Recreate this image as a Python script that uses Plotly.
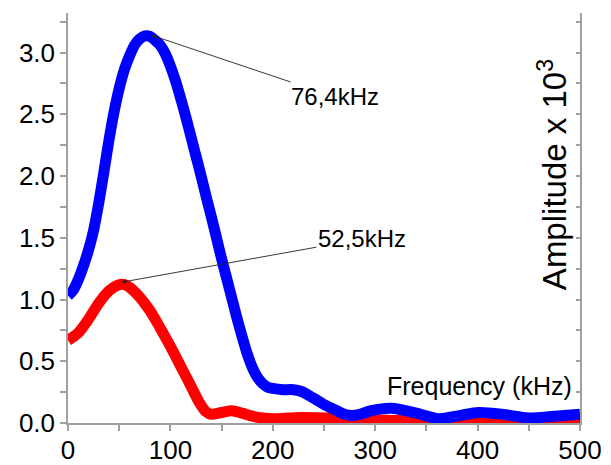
import plotly.graph_objects as go

# Frequency (kHz) / amplitude x 10^3
blue_x = [0, 5, 10, 15, 20, 25, 30, 35, 40, 45, 50, 55, 60, 65, 70, 75, 80, 85, 90, 95, 100,
          105, 110, 115, 120, 125, 130, 135, 140, 145, 150, 155, 160, 165, 170, 175, 180, 185,
          190, 195, 200, 210, 220, 228, 240, 250, 260, 270, 277, 285, 296, 316, 340, 362, 382,
          401, 425, 450, 475, 500]
blue_y = [1.03, 1.075, 1.16, 1.27, 1.40, 1.56, 1.78, 2.03, 2.29, 2.52, 2.71, 2.86, 2.97, 3.06,
          3.11, 3.135, 3.13, 3.10, 3.06, 2.99, 2.89, 2.77, 2.63, 2.48, 2.32, 2.16, 2.0, 1.83,
          1.67, 1.50, 1.33, 1.17, 1.01, 0.85, 0.70, 0.56, 0.45, 0.37, 0.32, 0.29, 0.28, 0.27,
          0.27, 0.255, 0.20, 0.15, 0.11, 0.07, 0.06, 0.07, 0.10, 0.12, 0.08, 0.035, 0.06, 0.085,
          0.07, 0.04, 0.055, 0.07]

red_x = [0, 10, 20, 30, 40, 50, 55, 60, 70, 80, 90, 100, 110, 120, 128, 135, 140, 150, 160,
         170, 180, 190, 205, 226, 258, 290, 320, 360, 400, 440, 470, 500]
red_y = [0.67, 0.73, 0.84, 0.97, 1.07, 1.12, 1.12, 1.10, 1.02, 0.91, 0.77, 0.62, 0.46, 0.30,
         0.17, 0.09, 0.07, 0.085, 0.10, 0.08, 0.055, 0.04, 0.035, 0.045, 0.04, 0.03, 0.02,
         0.015, 0.035, 0.015, 0.02, 0.02]

peak_labels = ["76,4kHz", "52,5kHz"]
peak_x = [81.5, 52.3]
peak_y = [3.14, 1.14]
label_cx = [261, 287]
label_cy = [2.64, 1.49]

x_ticks = [0, 100, 200, 300, 400, 500]
y_ticks = [0.0, 0.5, 1.0, 1.5, 2.0, 2.5, 3.0]

FONT = "Liberation Sans, Arial, sans-serif"
AXC = "#a0a0a0"

fig = go.Figure()
fig.add_trace(go.Scatter(x=red_x, y=red_y, mode="lines",
                         line=dict(color="#ff0000", width=11, shape="spline", smoothing=0.8),
                         showlegend=False, hoverinfo="skip"))
fig.add_trace(go.Scatter(x=blue_x, y=blue_y, mode="lines",
                         line=dict(color="#0000ff", width=11, shape="spline", smoothing=0.8),
                         showlegend=False, hoverinfo="skip"))
# invisible trace for right axis
fig.add_trace(go.Scatter(x=[None], y=[None], yaxis="y2", showlegend=False, hoverinfo="skip"))

annotations = []
for i in range(2):
    annotations.append(dict(x=peak_x[i], y=peak_y[i], ax=label_cx[i], ay=label_cy[i],
                            xref="x", yref="y", axref="x", ayref="y", text=peak_labels[i],
                            showarrow=True, arrowhead=2, arrowsize=1.0, arrowwidth=0.9,
                            arrowcolor="#222222", standoff=0, startstandoff=0,
                            font=dict(family=FONT, size=24, color="black")))
annotations.append(dict(x=494, y=0.30, xref="x", yref="y", text="Frequency (kHz)",
                        showarrow=False, xanchor="right", yanchor="middle",
                        font=dict(family=FONT, size=25, color="black")))
annotations.append(dict(x=473, y=2.01, xref="x", yref="y", text="Amplitude x 10<sup>3</sup>",
                        showarrow=False, textangle=-90, xanchor="center", yanchor="middle",
                        font=dict(family=FONT, size=33, color="black")))

fig.update_layout(
    width=603, height=457,
    margin=dict(l=60, r=31, t=5, b=42),
    paper_bgcolor="white", plot_bgcolor="white",
    annotations=annotations,
    xaxis=dict(range=[0, 500], tickvals=x_ticks, ticktext=[str(v) for v in x_ticks],
               automargin=False, ticklabelstandoff=-3,
               ticks="outside", ticklen=6, tickwidth=1.5, tickcolor=AXC,
               showline=True, linecolor=AXC, linewidth=1.5, showgrid=False, zeroline=False,
               minor=dict(dtick=50, ticks="outside", ticklen=6, tickwidth=1.5, tickcolor=AXC),
               tickfont=dict(family=FONT, size=26, color="black")),
    yaxis=dict(range=[0, 3.32], tickvals=y_ticks, ticktext=[f"{v:.1f}" for v in y_ticks],
               automargin=False,
               ticks="outside", ticklen=6, tickwidth=1.5, tickcolor=AXC,
               showline=True, linecolor=AXC, linewidth=1.5, showgrid=False, zeroline=False,
               minor=dict(dtick=0.25, ticks="outside", ticklen=6, tickwidth=1.5, tickcolor=AXC),
               tickfont=dict(family=FONT, size=26, color="black")),
    yaxis2=dict(range=[0, 3.32], overlaying="y", side="right", anchor="x",
                tickvals=y_ticks, showticklabels=False, automargin=False,
                ticks="inside", ticklen=4, tickwidth=1.5, tickcolor=AXC,
                showline=True, linecolor=AXC, linewidth=1.5, showgrid=False, zeroline=False,
                minor=dict(dtick=0.25, ticks="inside", ticklen=4, tickwidth=1.5, tickcolor=AXC)),
)

fig.write_html("out.html")
